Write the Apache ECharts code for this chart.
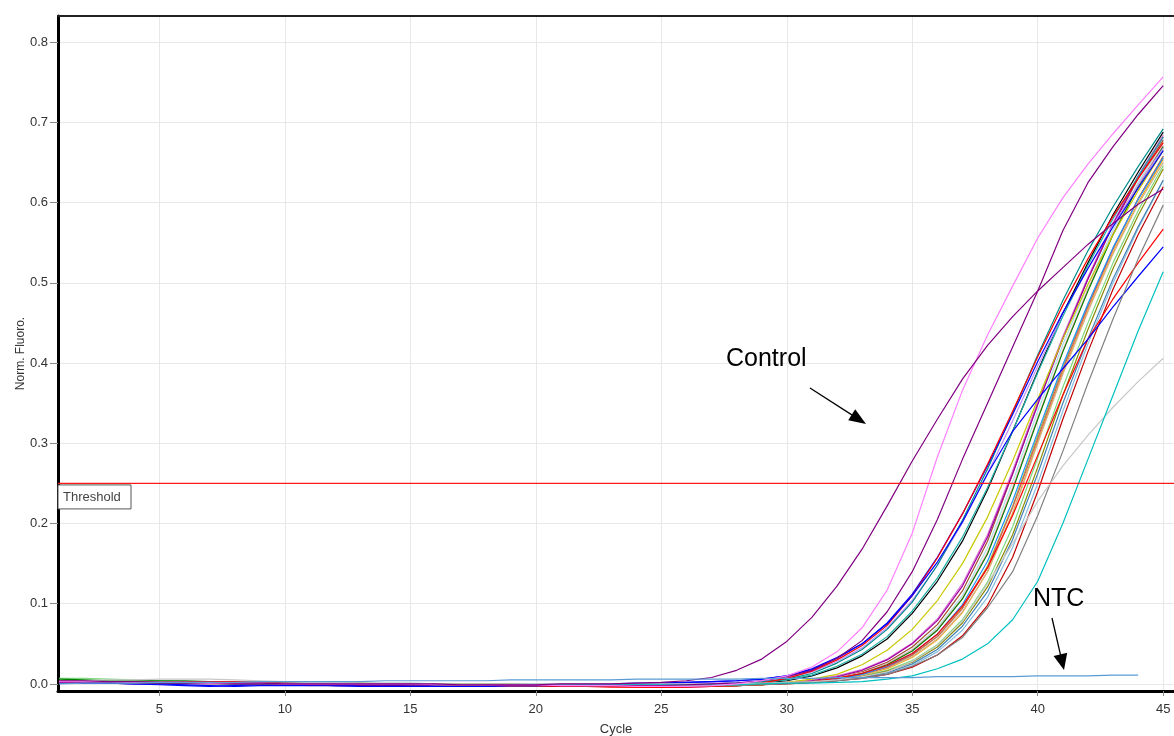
<!DOCTYPE html>
<html><head><meta charset="utf-8">
<script src="https://cdn.jsdelivr.net/npm/echarts@6/dist/echarts.min.js"></script>
<style>html,body{margin:0;padding:0;background:#fff}#c{width:1174px;height:736px}</style>
</head><body><div id="c"></div>
<script>
// ---------- DATA ----------
const cycles = [1,2,3,4,5,6,7,8,9,10,11,12,13,14,15,16,17,18,19,20,21,22,23,24,25,26,27,28,29,30,31,32,33,34,35,36,37,38,39,40,41,42,43,44,45];
const xTickValues = [5,10,15,20,25,30,35,40,45];
const yTickValues = [0,0.1,0.2,0.3,0.4,0.5,0.6,0.7,0.8];
const xRange = [0.96, 45.43];
const yRange = [-0.0088, 0.8328];
const thresholdValue = 0.25;

const sRed = [0.003,0.003,0.002,0.002,0.002,0.003,0.003,0.003,0.002,0.001,0.000,0.000,-0.001,-0.001,-0.001,-0.001,-0.002,-0.002,-0.002,-0.002,-0.003,-0.003,-0.004,-0.004,-0.004,
  -0.004,-0.003,-0.002,0.001,0.007,0.016,0.030,0.048,0.073,0.110,0.157,0.212,0.274,0.340,0.408,0.472,0.530,0.583,0.630,0.675];
const sBlue = [0.001,0.002,0.001,0.000,-0.001,-0.002,-0.003,-0.002,-0.001,-0.001,-0.001,-0.002,-0.002,-0.002,-0.002,-0.002,-0.003,-0.003,-0.002,-0.002,-0.002,-0.001,-0.001,0.000,0.001,
  0.002,0.003,0.004,0.006,0.010,0.019,0.033,0.050,0.076,0.112,0.158,0.212,0.272,0.336,0.402,0.463,0.518,0.570,0.618,0.665];
const sTeal = [0.002,0.002,0.002,0.002,0.001,0.001,0.001,0.000,0.000,0.000,0.000,-0.001,-0.001,-0.001,-0.001,-0.001,-0.001,-0.001,-0.001,-0.001,-0.001,-0.001,-0.001,-0.001,-0.001,
  -0.001,0.000,0.001,0.003,0.006,0.013,0.026,0.043,0.068,0.102,0.148,0.204,0.268,0.338,0.410,0.478,0.540,0.595,0.645,0.692];
const sSeaGreen = [0.003,0.003,0.002,0.002,0.002,0.001,0.001,0.001,0.000,0.000,0.000,0.000,0.000,-0.001,-0.001,-0.001,-0.001,-0.001,-0.002,-0.002,-0.002,-0.002,-0.002,-0.002,-0.002,
  -0.002,-0.001,0.000,0.002,0.005,0.011,0.022,0.037,0.059,0.091,0.132,0.183,0.245,0.315,0.388,0.458,0.522,0.580,0.633,0.682];
const sLavender = [0.001,0.001,0.001,0.001,0.000,0.000,0.000,0.000,0.000,-0.001,-0.001,-0.001,-0.001,-0.001,-0.001,-0.001,-0.001,-0.001,-0.001,-0.001,0.000,0.000,0.000,0.000,0.000,
  0.000,0.001,0.002,0.004,0.008,0.015,0.028,0.045,0.070,0.104,0.148,0.201,0.262,0.328,0.396,0.460,0.518,0.572,0.622,0.668];
const sBlack = [0.002,0.002,0.002,0.001,0.001,0.001,0.001,0.000,0.000,0.000,0.000,0.000,-0.001,-0.001,-0.001,-0.001,-0.001,-0.001,-0.001,-0.001,-0.001,-0.002,-0.002,-0.002,-0.002,
  -0.002,-0.001,0.000,0.001,0.004,0.010,0.020,0.035,0.056,0.088,0.128,0.178,0.242,0.315,0.390,0.462,0.525,0.585,0.638,0.688];
const sYellow = [0.001,0.001,0.001,0.001,0.001,0.000,0.000,0.000,0.000,0.000,0.000,-0.001,-0.001,-0.001,-0.001,-0.001,-0.001,-0.002,-0.002,-0.002,-0.002,-0.003,-0.003,-0.003,-0.003,
  -0.003,-0.003,-0.002,-0.001,0.002,0.006,0.012,0.024,0.042,0.068,0.104,0.150,0.208,0.278,0.355,0.430,0.498,0.560,0.615,0.665];
const sPurple = [0.003,0.003,0.002,0.002,0.002,0.001,0.001,0.001,0.000,0.000,-0.001,-0.002,-0.002,-0.002,-0.002,-0.002,-0.002,-0.002,-0.002,-0.002,-0.002,-0.003,-0.003,-0.003,-0.004,
  -0.004,-0.003,-0.002,-0.001,0.001,0.004,0.009,0.017,0.030,0.050,0.079,0.122,0.183,0.262,0.348,0.430,0.505,0.573,0.632,0.682];
const sGreen = [0.006,0.005,0.004,0.004,0.004,0.004,0.003,0.002,0.001,0.001,0.000,0.000,0.000,0.000,-0.001,-0.001,-0.001,-0.001,-0.001,-0.001,-0.001,-0.001,-0.002,-0.002,-0.002,
  -0.002,-0.002,-0.002,-0.001,0.001,0.003,0.007,0.013,0.024,0.041,0.067,0.106,0.162,0.242,0.330,0.414,0.490,0.560,0.620,0.670];
const sLightPink = [0.002,0.002,0.002,0.002,0.002,0.002,0.002,0.001,0.001,0.001,0.000,0.000,0.000,0.000,0.000,-0.001,-0.001,-0.001,-0.001,-0.001,-0.001,-0.001,-0.002,-0.002,-0.002,
  -0.002,-0.002,-0.001,0.000,0.002,0.004,0.008,0.014,0.025,0.042,0.068,0.107,0.164,0.245,0.332,0.416,0.492,0.562,0.622,0.672];
const sIndianRed = [0.001,0.001,0.001,0.000,0.000,0.000,0.000,0.000,0.000,-0.001,-0.001,-0.001,-0.001,-0.001,-0.001,-0.001,-0.001,-0.002,-0.002,-0.002,-0.002,-0.002,-0.002,-0.002,-0.002,
  -0.002,-0.002,-0.001,0.000,0.001,0.003,0.006,0.012,0.021,0.036,0.059,0.094,0.145,0.220,0.306,0.392,0.470,0.542,0.605,0.658];
const sOrchid = [0.002,0.002,0.001,0.001,0.001,0.001,0.000,0.000,0.000,0.000,-0.001,-0.001,-0.001,-0.001,-0.001,-0.001,-0.001,-0.001,-0.001,-0.002,-0.002,-0.002,-0.002,-0.002,-0.002,
  -0.002,-0.001,-0.001,0.000,0.002,0.005,0.010,0.018,0.031,0.051,0.081,0.125,0.186,0.266,0.352,0.433,0.507,0.575,0.634,0.684];
const sOlive = [0.004,0.004,0.003,0.003,0.003,0.003,0.002,0.002,0.002,0.001,0.001,0.001,0.001,0.000,0.000,0.000,0.000,0.000,0.000,-0.001,-0.001,-0.001,-0.001,-0.001,-0.001,
  -0.001,-0.001,-0.001,0.000,0.001,0.002,0.005,0.009,0.016,0.027,0.046,0.076,0.121,0.186,0.270,0.360,0.442,0.518,0.584,0.642];
const sTan = [0.001,0.001,0.001,0.001,0.001,0.001,0.000,0.000,0.000,-0.001,-0.002,-0.002,-0.002,-0.001,-0.001,-0.001,-0.001,-0.001,-0.001,-0.001,-0.001,-0.001,-0.001,-0.001,-0.001,
  -0.001,-0.001,-0.001,0.000,0.001,0.003,0.006,0.011,0.020,0.034,0.056,0.090,0.140,0.212,0.300,0.386,0.464,0.536,0.598,0.650];
const sSkyBlue = [0.003,0.003,0.003,0.002,0.002,0.002,0.002,0.002,0.001,0.001,0.001,0.001,0.000,0.000,0.000,0.000,0.000,0.000,0.000,0.000,0.000,0.000,-0.001,-0.001,-0.001,
  -0.001,-0.001,-0.001,0.000,0.001,0.002,0.004,0.008,0.013,0.023,0.040,0.067,0.108,0.170,0.250,0.340,0.424,0.500,0.568,0.628];
const sOrange = [0.002,0.002,0.002,0.002,0.001,0.001,0.001,0.001,0.001,0.000,0.000,0.000,0.000,0.000,0.000,-0.001,-0.001,-0.001,-0.001,-0.001,-0.001,-0.001,-0.001,-0.002,-0.002,
  -0.002,-0.002,-0.001,-0.001,0.001,0.003,0.006,0.011,0.019,0.033,0.055,0.089,0.140,0.213,0.302,0.388,0.466,0.538,0.600,0.654];
const sLightGreen = [0.007,0.007,0.006,0.005,0.004,0.003,0.003,0.002,0.002,0.001,0.001,0.001,0.000,0.000,0.000,0.000,0.000,0.000,-0.001,-0.001,-0.001,-0.001,-0.001,-0.001,-0.001,
  -0.001,-0.001,-0.001,0.000,0.001,0.002,0.005,0.010,0.017,0.029,0.049,0.080,0.127,0.196,0.282,0.370,0.450,0.525,0.590,0.646];
const sBrown = [0.002,0.002,0.001,0.001,0.001,0.001,0.001,0.000,0.000,0.000,0.000,0.000,0.000,-0.001,-0.001,-0.001,-0.001,-0.001,-0.001,-0.001,-0.002,-0.002,-0.002,-0.002,-0.002,
  -0.002,-0.002,-0.001,0.000,0.002,0.004,0.008,0.015,0.027,0.046,0.074,0.116,0.178,0.262,0.350,0.432,0.505,0.572,0.630,0.678];
const sPaleTurq = [0.003,0.003,0.003,0.003,0.003,0.002,0.002,0.002,0.002,0.002,0.001,0.001,0.001,0.001,0.001,0.000,0.000,0.000,0.000,0.000,0.000,0.000,0.000,0.000,0.000,
  0.000,0.000,0.000,0.001,0.002,0.004,0.008,0.014,0.025,0.043,0.070,0.110,0.170,0.252,0.340,0.423,0.498,0.566,0.625,0.675];
const sYellowGreen = [0.002,0.002,0.002,0.002,0.002,0.002,0.001,0.001,0.001,0.001,0.000,0.000,0.000,0.000,0.000,0.000,-0.001,-0.001,-0.001,-0.001,-0.001,-0.001,-0.001,-0.001,-0.001,
  -0.001,-0.001,-0.001,0.000,0.001,0.003,0.007,0.012,0.021,0.036,0.059,0.095,0.147,0.222,0.310,0.395,0.472,0.543,0.605,0.658];
const sDarkRed = [0.003,0.003,0.002,0.002,0.002,0.002,0.002,0.001,0.001,0.001,0.000,0.000,0.000,0.000,0.000,-0.001,-0.001,-0.001,-0.001,-0.001,-0.002,-0.002,-0.002,-0.002,-0.003,
  -0.003,-0.003,-0.002,-0.001,0.000,0.002,0.004,0.007,0.012,0.021,0.036,0.060,0.098,0.158,0.240,0.330,0.414,0.492,0.560,0.620];
const sSteelBlue = [0.001,0.001,0.001,0.001,0.000,0.000,0.000,0.000,0.000,0.000,0.000,-0.001,-0.001,-0.001,-0.001,-0.001,-0.001,-0.001,-0.001,-0.001,-0.001,-0.001,-0.001,-0.001,-0.001,
  -0.001,-0.001,-0.001,0.000,0.001,0.002,0.004,0.008,0.014,0.025,0.043,0.072,0.115,0.180,0.262,0.350,0.430,0.505,0.570,0.628];
const sDodger = [0.002,0.002,0.002,0.001,0.001,0.001,0.001,0.001,0.000,0.000,0.000,0.000,0.000,0.000,-0.001,-0.001,-0.001,-0.001,-0.001,-0.001,-0.001,-0.001,-0.001,-0.001,-0.001,
  -0.001,-0.001,-0.001,0.000,0.001,0.003,0.006,0.012,0.022,0.038,0.062,0.099,0.153,0.228,0.314,0.398,0.474,0.544,0.604,0.656];
const sControl = [0.004,0.004,0.003,0.003,0.002,0.002,0.002,0.001,0.001,0.000,0.000,0.000,0.000,0.000,0.000,0.000,-0.001,-0.001,-0.001,-0.001,0.000,0.000,0.000,0.001,0.002,
  0.004,0.008,0.017,0.031,0.053,0.083,0.122,0.168,0.222,0.278,0.330,0.380,0.422,0.458,0.490,0.519,0.548,0.574,0.598,0.617];
const sPink = [0.003,0.003,0.003,0.002,0.002,0.002,0.001,0.001,0.001,0.000,0.000,0.000,0.000,0.000,0.000,-0.001,-0.001,-0.001,-0.001,-0.001,-0.002,-0.002,-0.002,-0.003,-0.003,
  -0.003,-0.002,0.000,0.004,0.010,0.021,0.040,0.070,0.117,0.188,0.283,0.366,0.435,0.496,0.556,0.606,0.648,0.686,0.722,0.757];
const sDarkPurple = [0.002,0.002,0.002,0.001,0.001,0.001,0.001,0.000,0.000,0.000,-0.001,-0.001,-0.001,-0.001,-0.001,-0.001,-0.001,-0.001,-0.002,-0.002,-0.002,-0.002,-0.002,-0.002,-0.002,
  -0.001,0.000,0.001,0.004,0.009,0.017,0.032,0.054,0.090,0.140,0.205,0.280,0.350,0.420,0.490,0.565,0.625,0.670,0.710,0.746];
const sRedLate = [0.002,0.002,0.002,0.002,0.001,0.001,0.001,0.001,0.000,0.000,0.000,0.000,-0.001,-0.001,-0.001,-0.001,-0.001,-0.002,-0.002,-0.002,-0.003,-0.003,-0.003,-0.004,-0.004,
  -0.003,-0.003,-0.002,-0.001,0.001,0.003,0.007,0.013,0.023,0.038,0.062,0.097,0.145,0.210,0.285,0.360,0.430,0.480,0.525,0.567];
const sBlueLate = [0.001,0.001,0.001,0.000,0.000,-0.001,-0.002,-0.003,-0.002,-0.002,-0.002,-0.002,-0.003,-0.003,-0.003,-0.003,-0.003,-0.003,-0.002,-0.002,-0.001,-0.001,0.000,0.001,0.001,
  0.002,0.003,0.004,0.006,0.010,0.018,0.032,0.050,0.075,0.110,0.152,0.202,0.262,0.315,0.355,0.393,0.430,0.470,0.508,0.545];
const sGray = [0.003,0.003,0.003,0.002,0.002,0.002,0.002,0.001,0.001,0.001,0.000,0.000,0.000,0.000,-0.001,-0.001,-0.001,-0.001,-0.001,-0.001,-0.001,-0.002,-0.002,-0.002,-0.002,
  -0.002,-0.002,-0.002,-0.001,0.000,0.002,0.004,0.007,0.012,0.022,0.036,0.058,0.095,0.140,0.210,0.290,0.375,0.455,0.530,0.597];
const sLightGray = [0.004,0.004,0.005,0.005,0.006,0.006,0.006,0.005,0.004,0.003,0.002,0.002,0.001,0.001,0.001,0.000,0.000,0.000,0.000,0.000,0.000,0.000,0.000,0.000,0.000,
  0.000,0.000,0.000,0.001,0.002,0.003,0.005,0.009,0.015,0.028,0.048,0.078,0.125,0.175,0.228,0.272,0.310,0.345,0.377,0.406];
const sCyan = [0.002,0.002,0.002,0.001,0.001,0.001,0.001,0.001,0.000,0.000,0.000,0.000,0.000,0.000,0.000,-0.001,-0.001,-0.001,-0.001,-0.001,-0.001,-0.001,-0.001,-0.001,-0.001,
  -0.001,-0.001,-0.001,0.000,0.001,0.001,0.002,0.003,0.006,0.010,0.019,0.031,0.050,0.080,0.128,0.200,0.280,0.360,0.440,0.514];
const sNTC = [0.000,0.001,0.001,0.001,0.002,0.002,0.002,0.002,0.003,0.003,0.003,0.003,0.003,0.004,0.004,0.004,0.004,0.004,0.005,0.005,0.005,0.005,0.005,0.006,0.006,
  0.006,0.006,0.006,0.007,0.007,0.007,0.008,0.008,0.008,0.008,0.009,0.009,0.009,0.009,0.010,0.010,0.010,0.011,0.011,null];

// series list: [data array, colour]
const curves = [
  [sYellowGreen,'#9acd32'],[sPaleTurq,'#a8e4e4'],[sBrown,'#a0522d'],[sLightGreen,'#7fd87f'],
  [sOrange,'#ffa500'],[sSkyBlue,'#87bfe0'],[sTan,'#d2b48c'],[sOlive,'#8a8a00'],
  [sOrchid,'#da70d6'],[sIndianRed,'#cd5c5c'],[sLightPink,'#ffa0b4'],[sGreen,'#008000'],
  [sPurple,'#a000a0'],[sDodger,'#1e90ff'],[sSteelBlue,'#4682b4'],[sDarkRed,'#c00000'],
  [sYellow,'#c8c800'],[sBlack,'#000000'],[sLavender,'#c090ff'],[sSeaGreen,'#20b2aa'],
  [sTeal,'#008b8b'],[sBlue,'#0000ff'],[sRed,'#ff0000'],
  [sRedLate,'#ff0000'],[sBlueLate,'#0000ff'],[sGray,'#808080'],[sLightGray,'#c8c8c8'],
  [sCyan,'#00c0c0'],[sDarkPurple,'#800080'],[sPink,'#ff80ff'],[sControl,'#800080'],
  [sNTC,'#5b9bd5']
];

// ---------- CHART ----------
const FONT = "'Liberation Sans', Arial, sans-serif";
const chart = echarts.init(document.getElementById('c'), null, {renderer:'canvas'});

const series = curves.map((c, i) => ({
  type: 'line',
  name: 'S' + (i + 1),
  data: cycles.map((x, k) => [x, c[0][k]]),
  showSymbol: false,
  symbol: 'none',
  lineStyle: { color: c[1], width: 1.2 },
  itemStyle: { color: c[1] },
  emphasis: { disabled: true },
  silent: true,
  z: 3
}));

// threshold line drawn through the axes from the threshold value
series.push({
  type: 'line',
  name: 'Threshold',
  data: [[xRange[0], thresholdValue], [xRange[1], thresholdValue]],
  showSymbol: false,
  symbol: 'none',
  silent: true,
  lineStyle: { color: '#ff1a1a', width: 1.3, opacity: 1 },
  itemStyle: { color: '#ff1a1a' },
  emphasis: { disabled: true },
  z: 20,
  zlevel: 0
});

const axisLabelBase = { fontFamily: FONT, fontSize: 13, color: '#333' };

function arrow(x1, y1, x2, y2, len, half) {
  const dx = x2 - x1, dy = y2 - y1, d = Math.hypot(dx, dy);
  const ux = dx / d, uy = dy / d;
  const bx = x2 - ux * len, by = y2 - uy * len;
  return [
    { type: 'line', shape: { x1, y1, x2: bx + ux * 2, y2: by + uy * 2 }, style: { stroke: '#000', lineWidth: 1.3 }, z: 100 },
    { type: 'polygon', shape: { points: [[x2, y2], [bx - uy * half, by + ux * half], [bx + uy * half, by - ux * half]] }, style: { fill: '#000' }, z: 100 }
  ];
}

chart.setOption({
  animation: false,
  backgroundColor: '#fff',
  grid: { left: 58, right: 0, top: 16, bottom: 45, containLabel: false, outerBoundsMode: 'none' },
  xAxis: [{
    type: 'value', min: xRange[0], max: xRange[1], splitNumber: 9,
    name: 'Cycle', nameLocation: 'middle', nameGap: 32,
    nameTextStyle: { fontFamily: FONT, fontSize: 13, color: '#333' },
    axisLine: { show: true, onZero: false, lineStyle: { color: '#000', width: 3 } },
    axisTick: { show: true, length: 5, customValues: xTickValues, lineStyle: { color: '#888' } },
    axisLabel: Object.assign({ margin: 12, customValues: xTickValues }, axisLabelBase),
    splitLine: { show: true, lineStyle: { color: '#e8e8e8', width: 1 } }
  }, {
    type: 'value', position: 'top', min: xRange[0], max: xRange[1],
    axisLine: { show: true, onZero: false, lineStyle: { color: '#222', width: 2 } },
    axisTick: { show: false }, axisLabel: { show: false }, splitLine: { show: false }
  }],
  yAxis: {
    type: 'value', min: yRange[0], max: yRange[1], splitNumber: 8,
    name: 'Norm. Fluoro.', nameLocation: 'middle', nameGap: 31, nameRotate: 90, nameMoveOverlap: false,
    nameTextStyle: { fontFamily: FONT, fontSize: 12, color: '#333' },
    axisLine: { show: true, onZero: false, lineStyle: { color: '#000', width: 3 } },
    axisTick: { show: true, length: 8, customValues: yTickValues, lineStyle: { color: '#888' } },
    axisLabel: Object.assign({ margin: 10, customValues: yTickValues, formatter: v => v.toFixed(1) }, axisLabelBase),
    splitLine: { show: true, lineStyle: { color: '#e8e8e8', width: 1 } }
  },
  series: series,
  graphic: [
    { type: 'text', left: 726, top: 347, style: { text: 'Control', font: "25px " + FONT, fill: '#000' }, z: 100 },
    { type: 'text', left: 1033, top: 587, style: { text: 'NTC', font: "25px " + FONT, fill: '#000' }, z: 100 },
    ...arrow(810, 388, 866, 424, 17, 6.5),
    ...arrow(1052, 618, 1064, 670, 16, 7)
  ]
});

// "Threshold" tag placed from the threshold value through the axis scale
const tp = chart.convertToPixel({ xAxisIndex: 0, yAxisIndex: 0 }, [xRange[0], thresholdValue]);
chart.setOption({
  graphic: [
    { type: 'rect', id: 'thrBox', shape: { x: tp[0], y: tp[1] + 1.5, width: 73, height: 24 }, style: { fill: '#fff', stroke: '#555', lineWidth: 1 }, z: 90 },
    { type: 'text', id: 'thrText', x: tp[0] + 5, y: tp[1] + 14, style: { text: 'Threshold', font: "13px " + FONT, fill: '#444', verticalAlign: 'middle' }, z: 91 }
  ]
});
</script></body></html>
